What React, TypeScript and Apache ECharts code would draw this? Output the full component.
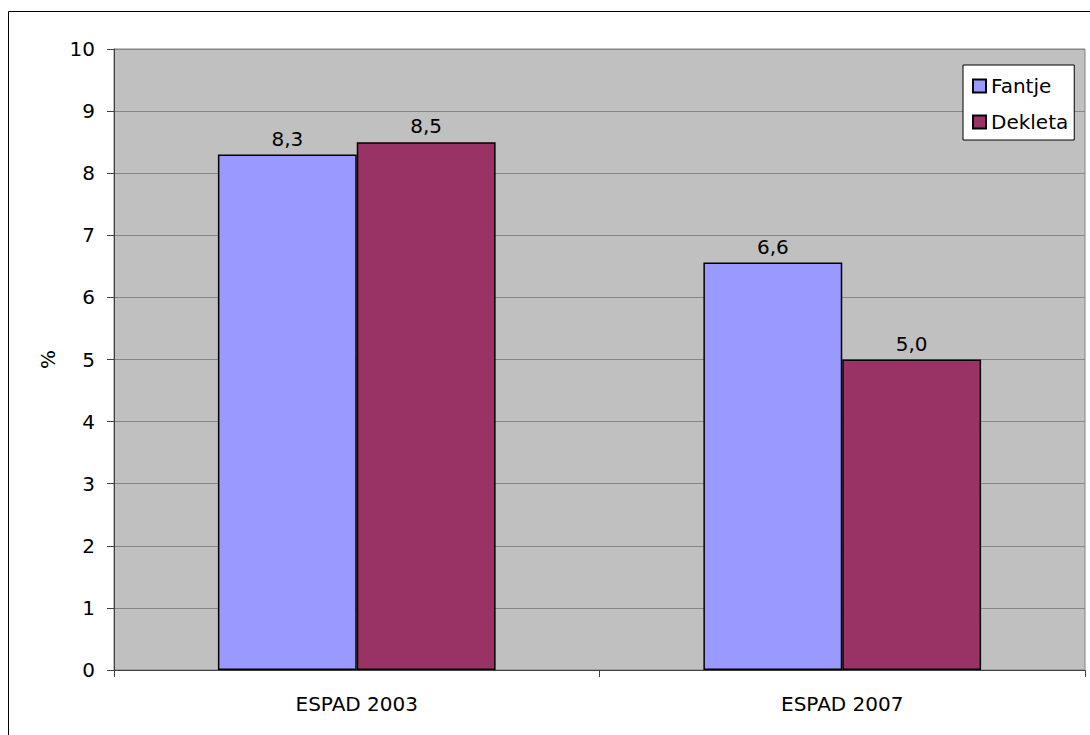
import React, { useEffect, useRef } from "react";
import * as echarts from "echarts";

const categories = ["ESPAD 2003", "ESPAD 2007"];
const fantje = [8.3, 6.56];
const dekleta = [8.5, 5.0];
const seriesNames = ["Fantje", "Dekleta"];
const yMin = 0;
const yMax = 10;
const yStep = 1;

const FONT = "'DejaVu Sans', Verdana, sans-serif";

export default function App() {
  const ref = useRef<HTMLDivElement>(null);
  useEffect(() => {
    if (!ref.current) return;
    const chart = echarts.init(ref.current, null, { renderer: "svg" });
    const fmt = (p: any) => Number(p.value).toFixed(1).replace(".", ",");
    chart.setOption({
      animation: false,
      backgroundColor: "#ffffff",
      textStyle: { fontFamily: FONT },
      grid: {
        left: 114,
        top: 49,
        right: 5,
        bottom: 65,
        show: true,
        backgroundColor: "#C0C0C0",
        borderColor: "#808080",
        borderWidth: 1,
      },
      legend: {
        orient: "vertical",
        left: 963,
        top: 65,
        padding: [10, 6, 7, 9],
        backgroundColor: "#ffffff",
        borderColor: "#000000",
        borderWidth: 1,
        itemWidth: 13,
        itemHeight: 13,
        itemGap: 14,
        icon: "rect",
        textStyle: { fontFamily: FONT, fontSize: 20, color: "#000", lineHeight: 22 },
        data: seriesNames,
      },
      xAxis: {
        type: "category",
        data: categories,
        axisLine: { lineStyle: { color: "#404040", width: 1 } },
        axisTick: { show: true, length: 7, lineStyle: { color: "#404040" } },
        axisLabel: { fontFamily: FONT, fontSize: 20, color: "#000", margin: 24 },
        splitLine: { show: false },
      },
      yAxis: {
        type: "value",
        min: yMin,
        max: yMax,
        interval: yStep,
        name: "%",
        nameLocation: "middle",
        nameGap: 56,
        nameRotate: 90,
        nameTextStyle: { fontFamily: FONT, fontSize: 20, color: "#000" },
        axisLine: { show: true, lineStyle: { color: "#404040", width: 1 } },
        axisTick: { show: true, length: 7, lineStyle: { color: "#404040" } },
        axisLabel: { fontFamily: FONT, fontSize: 20, color: "#000", margin: 19 },
        splitLine: { show: true, lineStyle: { color: "#868686", width: 1 } },
      },
      series: [
        {
          name: seriesNames[0],
          type: "bar",
          data: fantje,
          barGap: "0%",
          barCategoryGap: "42.8%",
          itemStyle: { color: "#9999FF", borderColor: "#000000", borderWidth: 1.5 },
          label: {
            show: true,
            position: "top",
            distance: 6,
            formatter: fmt,
            fontFamily: FONT,
            fontSize: 20,
            color: "#000",
          },
        },
        {
          name: seriesNames[1],
          type: "bar",
          data: dekleta,
          barGap: "0%",
          barCategoryGap: "42.8%",
          itemStyle: { color: "#993366", borderColor: "#000000", borderWidth: 1.5 },
          label: {
            show: true,
            position: "top",
            distance: 6,
            formatter: fmt,
            fontFamily: FONT,
            fontSize: 20,
            color: "#000",
          },
        },
      ],
      graphic: [
        {
          type: "rect",
          silent: true,
          z: 100,
          shape: { x: 8.5, y: 11.5, width: 2000, height: 2000 },
          style: { fill: "none", stroke: "#000000", lineWidth: 1 },
        },
      ],
    });
    return () => chart.dispose();
  }, []);
  return (
    <div
      ref={ref}
      style={{ position: "absolute", left: 0, top: 0, width: 1090, height: 735 }}
    />
  );
}
